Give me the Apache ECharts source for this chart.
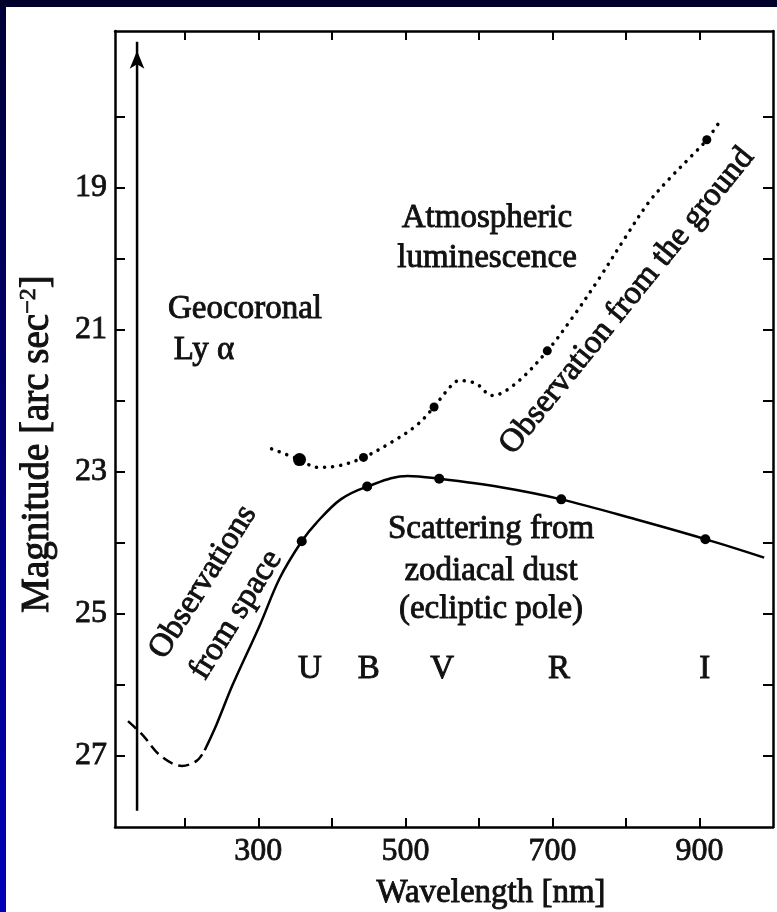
<!DOCTYPE html>
<html><head><meta charset="utf-8">
<script src="https://cdn.jsdelivr.net/npm/echarts@6/dist/echarts.min.js"></script>
<style>
html,body{margin:0;padding:0;width:777px;height:912px;overflow:hidden;background:#00002a;}
#strip{position:absolute;left:0;top:7px;width:6px;height:905px;background:linear-gradient(to bottom,#000038,#0000b8);}
#c{position:absolute;left:6px;top:7px;width:771px;height:905px;background:#fff;}
</style></head><body><div id="strip"></div><div id="c"></div>
<script>
// ---- axis ticks ----
const xTicks = [200,300,400,500,600,700,800,900];
const xTickLabels = [300,500,700,900];
const yTicks = [18,19,20,21,22,23,24,25,26,27];
const yTickLabels = [19,21,23,25,27];

// ---- curves (wavelength nm, magnitude) ----
const spaceDashWl  = [122.7,143,166,196,216,227];
const spaceDashMag = [26.51,26.71,26.99,27.14,27.07,26.92];
const zodiWl  = [227,243,265,302,329,359,379,412,448,503,546,630,712,813,908,988];
const zodiMag = [26.92,26.56,26.00,25.16,24.50,23.98,23.72,23.39,23.21,23.06,23.10,23.22,23.39,23.67,23.95,24.21];
const groundWl  = [318,356,380,408,443,482,515,539,555,573,596,618,650,693,726,763,800,831,858,889,910,929];
const groundMag = [22.68,22.83,22.94,22.92,22.80,22.58,22.35,22.09,21.88,21.72,21.76,21.93,21.76,21.30,20.85,20.29,19.69,19.21,18.89,18.56,18.33,18.05];

// ---- photometric bands ----
const bandNames = ['U','B','V','R','I'];
const bandLetterWl = [370,450,550,709,907];
const zodiBandWl  = [359,448,546,712,908];
const zodiBandMag = [23.98,23.21,23.10,23.39,23.95];
const groundBandWl  = [356,443,539,693,910];
const groundBandMag = [22.83,22.80,22.09,21.30,18.33];

// ---- geocoronal Ly alpha arrow ----
const lyAlphaWl = 135;
const lyAlphaMag = [27.77, 16.95];

const zip = (a,b)=>a.map((v,i)=>[v,b[i]]);
const FONT = '"Liberation Serif","Times New Roman",serif';
const INK = '#111';
const bandRowMag = 25.78;

const chart = echarts.init(document.getElementById('c'), null, {renderer:'canvas'});

const axisLineStyle = {color:'#000', width:2.5};
const tickStyle = {color:'#000', width:2};

const txt = (text, x, y, size, rotDeg) => ({
  type:'text', x:x, y:y, rotation:(rotDeg||0)*Math.PI/180, z:100,
  style:{text:text, x:0, y:0, textAlign:'center', textVerticalAlign:'middle',
         font:'normal '+size+'px '+FONT, fill:INK, stroke:INK, lineWidth:0.9}
});
const labelFont = {fontFamily:FONT, fontSize:32, color:INK, textBorderColor:INK, textBorderWidth:0.8};

chart.setOption({
  animation:false,
  grid:{left:109, right:4, top:24, bottom:85, containLabel:false},
  xAxis:[
    {type:'value', position:'bottom', min:105, max:1000,
     axisLine:{show:true, onZero:false, lineStyle:axisLineStyle},
     axisTick:{show:true, inside:true, length:9, customValues:xTicks, lineStyle:tickStyle},
     axisLabel:Object.assign({show:true, customValues:xTickLabels, margin:9}, labelFont),
     splitLine:{show:false}},
    {type:'value', position:'top', min:105, max:1000,
     axisLine:{show:true, onZero:false, lineStyle:axisLineStyle},
     axisTick:{show:true, inside:true, length:9, customValues:xTicks, lineStyle:tickStyle},
     axisLabel:{show:false}, splitLine:{show:false}}
  ],
  yAxis:[
    {type:'value', position:'left', inverse:true, min:16.8, max:28,
     axisLine:{show:true, onZero:false, lineStyle:axisLineStyle},
     axisTick:{show:true, inside:true, length:10, customValues:yTicks, lineStyle:tickStyle},
     axisLabel:Object.assign({show:true, customValues:yTickLabels, margin:8}, labelFont),
     splitLine:{show:false}},
    {type:'value', position:'right', inverse:true, min:16.8, max:28,
     axisLine:{show:true, onZero:false, lineStyle:axisLineStyle},
     axisTick:{show:true, inside:true, length:10, customValues:yTicks, lineStyle:tickStyle},
     axisLabel:{show:false}, splitLine:{show:false}}
  ],
  series:[
    {type:'line', data:zip(spaceDashWl,spaceDashMag), smooth:0.35, showSymbol:false,
     lineStyle:{color:'#000', width:2.5, type:[11,6]}},
    {type:'line', data:zip(zodiWl,zodiMag), smooth:0.35, showSymbol:false,
     lineStyle:{color:'#000', width:2.5}},
    {type:'line', data:zip(groundWl,groundMag), smooth:0.35, showSymbol:false,
     lineStyle:{color:'#000', width:3.5, type:[0.1,8], cap:'round'}},
    {type:'scatter', data:zip(zodiBandWl,zodiBandMag), symbol:'circle', symbolSize:10,
     itemStyle:{color:'#000', opacity:1}, z:5},
    {type:'scatter', data:zip(groundBandWl,groundBandMag).map((p,i)=>({value:p, symbolSize:i===0?13:9})),
     symbol:'circle', itemStyle:{color:'#000', opacity:1}, z:5},
    {type:'line', data:[{value:[lyAlphaWl,lyAlphaMag[0]], symbol:'none'},
                        {value:[lyAlphaWl,lyAlphaMag[1]], symbol:'arrow', symbolSize:[11,18], symbolOffset:[0,'50%']}],
     showSymbol:true, showAllSymbol:true, lineStyle:{color:'#000', width:2.5}, itemStyle:{color:'#000', opacity:1}},
    {type:'scatter', data:bandLetterWl.map((w,i)=>({value:[w,bandRowMag], name:bandNames[i]})),
     symbolSize:0, silent:true, itemStyle:{opacity:1},
     label:{show:true, position:'inside', formatter:p=>p.name, fontFamily:FONT, fontSize:33, color:INK,
            textBorderColor:INK, textBorderWidth:0.9, opacity:1}}
  ],
  graphic:[
    txt('Atmospheric', 481, 211, 33),
    txt('luminescence', 481, 251, 33),
    txt('Geocoronal', 239, 302, 33),
    txt('Ly \u03b1', 198, 343, 33),
    txt('Scattering from', 485, 522, 33),
    txt('zodiacal dust', 485, 564, 33),
    txt('(ecliptic pole)', 485, 602, 33),
    txt('Observations', 197, 575, 33, 58),
    txt('from space', 230, 608, 33, 58),
    txt('Observation from the ground', 621, 294, 33, 51),
    txt('Wavelength [nm]', 485, 886, 33),
    {type:'text', x:32, y:437, rotation:Math.PI/2, z:100,
     style:{text:'{a|Magnitude [arc sec}{s|\u22122}{a|]}', x:0, y:0, textAlign:'center', textVerticalAlign:'middle',
            rich:{a:{fontFamily:FONT, fontSize:39, fill:INK, stroke:INK, lineWidth:1},
                  s:{fontFamily:FONT, fontSize:24, fill:INK, stroke:INK, lineWidth:0.8,
                     verticalAlign:'top', padding:[0,0,18,0]}}}}
  ]
});
</script></body></html>
